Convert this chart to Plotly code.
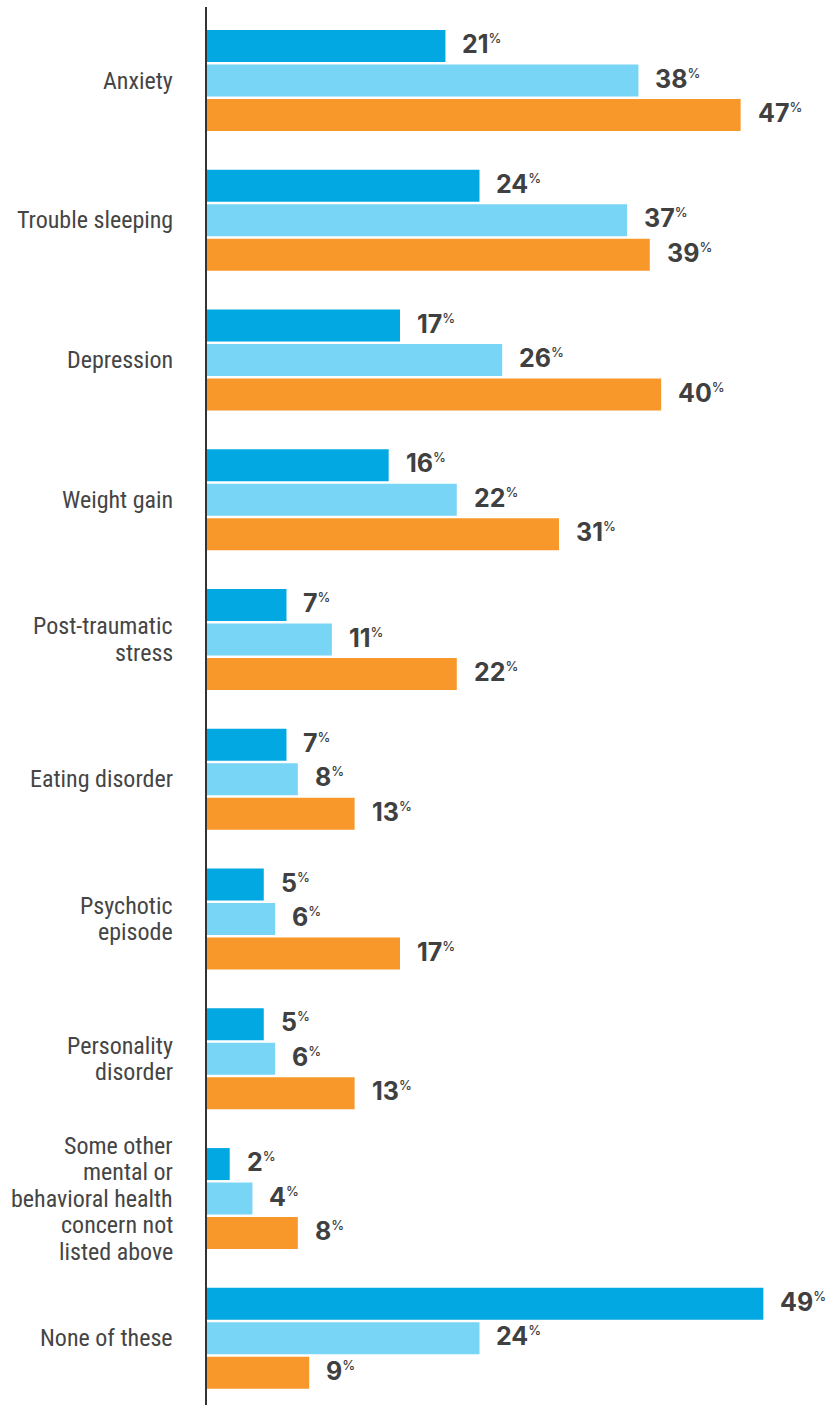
import plotly.graph_objects as go

# Survey categories (top to bottom) and the share reporting each concern
categories = [
    "Anxiety",
    "Trouble sleeping",
    "Depression",
    "Weight gain",
    "Post-traumatic\nstress",
    "Eating disorder",
    "Psychotic\nepisode",
    "Personality\ndisorder",
    "Some other\nmental or\nbehavioral health\nconcern not\nlisted above",
    "None of these",
]
series_a = [21, 24, 17, 16, 7, 7, 5, 5, 2, 49]
series_b = [38, 37, 26, 22, 11, 8, 6, 6, 4, 24]
series_c = [47, 39, 40, 31, 22, 13, 17, 13, 8, 9]

colors = ["#02A8E1", "#78D5F5", "#F8982A"]
value_color = "#404040"
label_color = "#454545"

# geometry of the grouped bars, in category-axis units (1 unit = one category)
STEP = 0.2469
BAR_W = 0.229
LINE_PX = 26.5

positions = list(range(len(categories)))
fig = go.Figure()

for k, vals in enumerate([series_a, series_b, series_c]):
    ys = [p + (k - 1) * STEP for p in positions]
    fig.add_trace(go.Bar(
        x=vals, y=ys, orientation="h", width=BAR_W,
        marker=dict(color=colors[k], line=dict(width=0)),
        hoverinfo="skip", showlegend=False,
    ))
    for v, yv in zip(vals, ys):
        fig.add_annotation(
            x=v, y=yv, xref="x", yref="y",
            text=f"{v}<sup><span style='font-size:13px;font-weight:500'>%</span></sup>",
            showarrow=False, xanchor="left", yanchor="middle",
            xshift=15, yshift=2,
            font=dict(family="Inter", size=25, color=value_color, weight="bold"),
        )

# category labels, one annotation per line for tight line spacing
for p, lab in zip(positions, categories):
    lines = lab.split("\n")
    n = len(lines)
    for j, line in enumerate(lines):
        fig.add_annotation(
            x=0, y=p, xref="paper", yref="y",
            text=line, showarrow=False,
            xanchor="right", yanchor="middle",
            xshift=-32, yshift=-(j - (n - 1) / 2) * LINE_PX,
            font=dict(family="Roboto Condensed", size=24, color=label_color),
        )

fig.update_layout(
    width=836, height=1405,
    margin=dict(l=207, r=0, t=7, b=0),
    paper_bgcolor="white", plot_bgcolor="white",
    barmode="overlay",
    xaxis=dict(range=[0, 55.4], visible=False, fixedrange=True),
    yaxis=dict(
        range=[9.477, -0.5259], showticklabels=False, showgrid=False,
        zeroline=False, ticks="", showline=True, linecolor="#333333",
        linewidth=1.5, fixedrange=True,
    ),
)

fig.write_html("out.html")
